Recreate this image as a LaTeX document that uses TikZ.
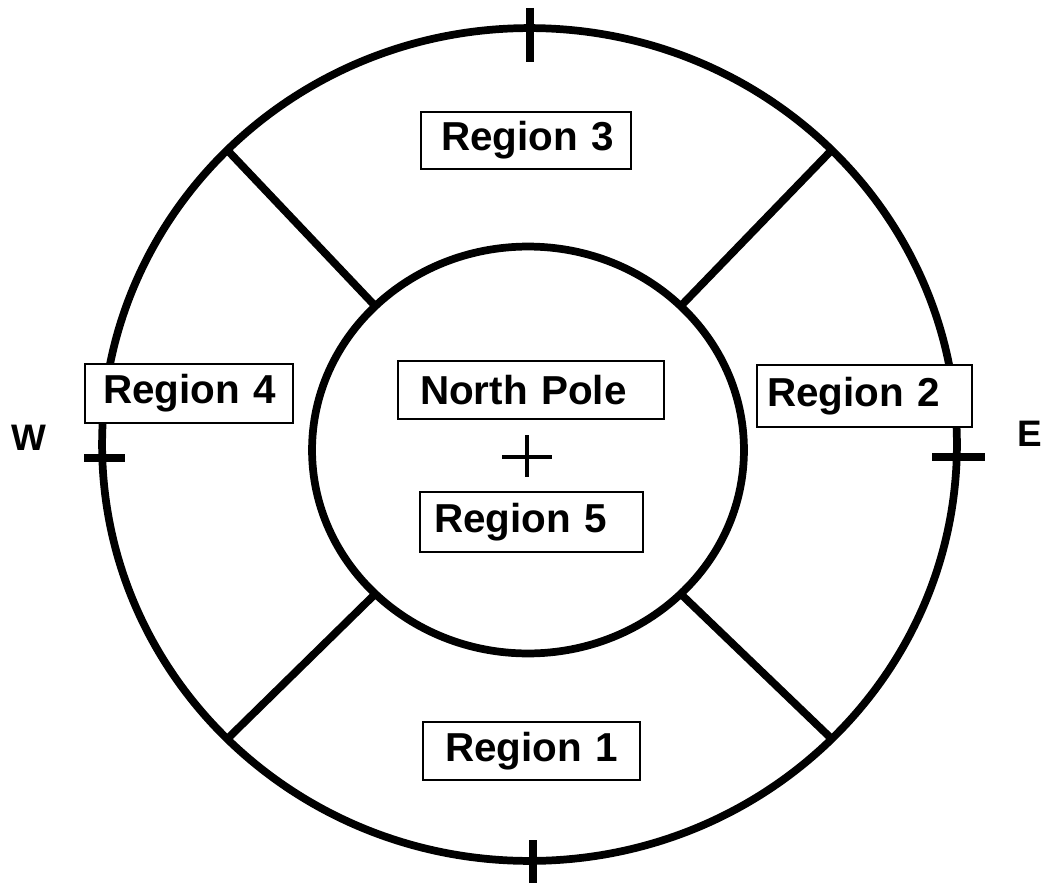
\documentclass[tikz,border=0pt]{standalone}
\usepackage{fontspec}
\setmainfont{Liberation Sans}
\usetikzlibrary{calc}
\begin{document}
\begin{tikzpicture}[x=0.02cm,y=-0.02cm,
  ring/.style={line width=4.4pt},
  tick/.style={line width=4.4pt},
  lbl/.style={draw,fill=white,line width=1.3pt,font=\fontsize{23}{26}\selectfont\bfseries,align=left,inner ysep=0pt},
  compass/.style={font=\fontsize{21}{24}\selectfont\bfseries,inner sep=0pt}]
\useasboundingbox (0,0) rectangle (1050,882);
\coordinate (oc) at (529.5,444.5);
\coordinate (ic) at (528,450);
\draw[ring] (oc) ellipse [x radius=8.55cm, y radius=8.33cm];
\draw[ring] (ic) ellipse [x radius=4.32cm, y radius=4.07cm];
\foreach \a in {45,135,225,315}{
  \coordinate (i\a) at ($(ic)+(\a:4.32cm and 4.07cm)$);
  \coordinate (o\a) at ($(oc)+(\a:8.55cm and 8.33cm)$);
  \draw[ring] (i\a) -- (o\a);
}
% ticks
\coordinate (nt1) at (530,8);  \coordinate (nt2) at (530,62);
\coordinate (st1) at (533,840); \coordinate (st2) at (533,890);
\coordinate (wt1) at (84,458); \coordinate (wt2) at (125,458);
\coordinate (et1) at (932,457); \coordinate (et2) at (985,457);
\draw[tick] (nt1) -- (nt2);
\draw[tick] (st1) -- (st2);
\draw[tick] (wt1) -- (wt2);
\draw[tick] (et1) -- (et2);
% centre cross
\coordinate (ch1) at (502,457); \coordinate (ch2) at (552,457);
\coordinate (cv1) at (527,435); \coordinate (cv2) at (527,477);
\draw[line width=2.3pt] (ch1) -- (ch2);
\draw[line width=2.3pt] (cv1) -- (cv2);
% labels
\node[lbl,minimum width=4.2cm,minimum height=1.14cm,text width=3.4cm,inner xsep=0.4cm] (r3) at (526,140.5) {\mbox{Region 3}};
\node[lbl,minimum width=4.16cm,minimum height=1.18cm,text width=3.44cm,inner xsep=0.36cm] (r4) at (189,393.5) {\mbox{Region 4}};
\node[lbl,minimum width=4.3cm,minimum height=1.24cm,text width=3.9cm,inner xsep=0.2cm] (r2) at (864.5,396) {\mbox{Region 2}};
\node[lbl,minimum width=5.32cm,minimum height=1.16cm,text width=4.44cm,inner xsep=0.44cm] (np) at (531,390) {\mbox{North Pole}};
\node[lbl,minimum width=4.46cm,minimum height=1.2cm,text width=3.9cm,inner xsep=0.28cm] (r5) at (531.5,522) {\mbox{Region 5}};
\node[lbl,minimum width=4.34cm,minimum height=1.16cm,text width=3.46cm,inner xsep=0.44cm] (r1) at (531.5,751) {\mbox{Region 1}};
\node[compass] (w) at (29,437.5) {W};
\node[compass] (e) at (1030,433.5) {E};
\end{tikzpicture}
\end{document}
